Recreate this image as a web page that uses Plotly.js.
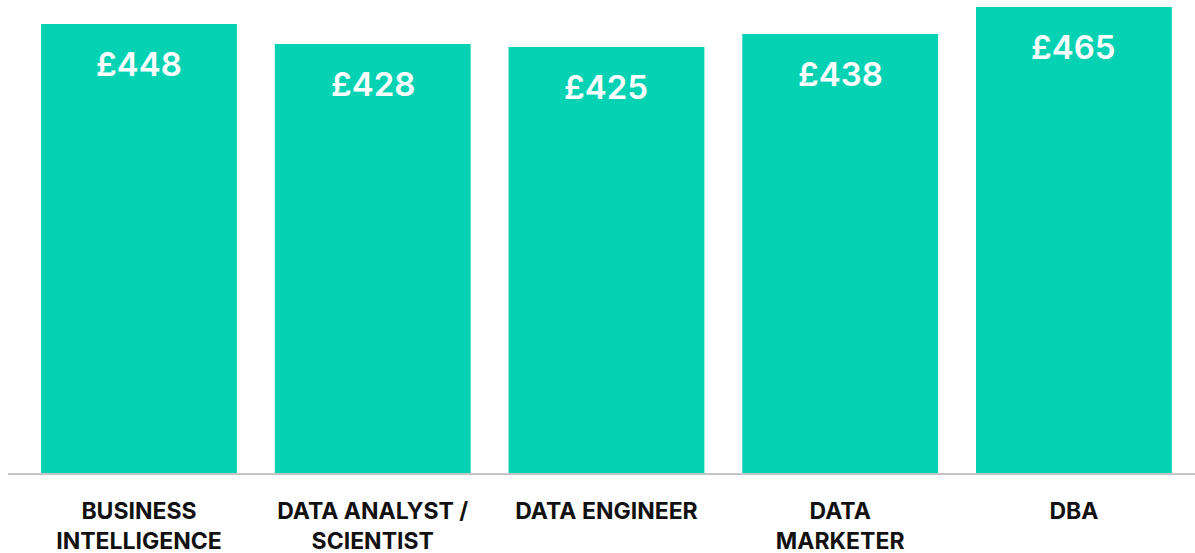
<!DOCTYPE html>
<html>
<head>
<meta charset="utf-8">
<script src="https://cdn.plot.ly/plotly-3.0.1.min.js"></script>
<style>html,body{margin:0;padding:0;background:#fff;}#chart{width:1195px;height:553px;}</style>
</head>
<body>
<div id="chart"></div>
<script>
const categories = ["BUSINESS<br>INTELLIGENCE", "DATA ANALYST /<br>SCIENTIST", "DATA ENGINEER", "DATA<br>MARKETER", "DBA"];
const salaries = [448, 428, 425, 438, 465];
const valueLabels = ["£448", "£428", "£425", "£438", "£465"];

const barColor = "#05d2b3";

const trace = {
  type: "bar",
  x: categories,
  y: salaries,
  marker: {color: barColor},
  hoverinfo: "skip"
};

const annotations = categories.map((c, i) => ({
  x: c, y: salaries[i], xref: "x", yref: "y",
  text: valueLabels[i], showarrow: false,
  yanchor: "top", yshift: -18,
  font: {family: "Inter, 'Open Sans', sans-serif", size: 33, color: "#ffffff", weight: 600}
}));

const layout = {
  width: 1195, height: 553,
  margin: {l: 8, r: 0, t: 7, b: 80},
  paper_bgcolor: "#ffffff", plot_bgcolor: "#ffffff",
  bargap: 0.162,
  showlegend: false,
  xaxis: {
    range: [-0.5604, 4.518],
    showline: true, linecolor: "#c4c4c4", linewidth: 2,
    layer: "below traces",
    showgrid: false, zeroline: false, ticks: "",
    ticklabelstandoff: 16,
    tickfont: {family: "Inter, 'Open Sans', sans-serif", size: 23, color: "#111111", weight: 700}
  },
  yaxis: {
    range: [0, 465], visible: false, showgrid: false, zeroline: false
  },
  annotations: annotations
};

Plotly.newPlot("chart", [trace], layout, {staticPlot: true, displayModeBar: false});
</script>
</body>
</html>
